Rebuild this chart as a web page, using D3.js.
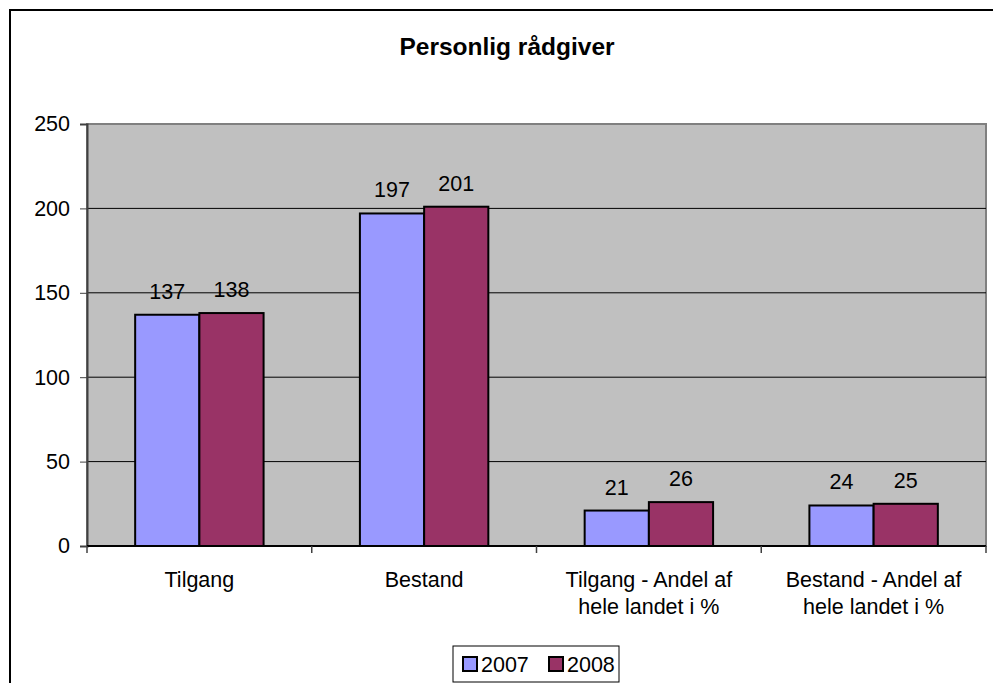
<!DOCTYPE html>
<html>
  <head>
    <meta charset="utf-8"/>
    <title>Personlig rådgiver</title>
    <script src="https://cdnjs.cloudflare.com/ajax/libs/d3/7.8.5/d3.min.js"></script>
    <style>
      body { margin: 0; background: #fff; }
      text { font-family: "Liberation Sans", Arial, sans-serif; fill: #000; }
    </style>
  </head>
  <body>
    <script>

      var categories = [
        ["Tilgang"],
        ["Bestand"],
        ["Tilgang - Andel af", "hele landet i %"],
        ["Bestand - Andel af", "hele landet i %"]
      ];
      var seriesNames = ["2007", "2008"];
      var values2007 = [137, 197, 21, 24];
      var values2008 = [138, 201, 26, 25];
      var yTicks = [0, 50, 100, 150, 200, 250];
      var colors = ["#9999ff", "#993366"];

      var width = 993, height = 683;
      var plot = { left: 87, right: 986, top: 124, bottom: 546 };
      var fs = 21.5;

      var svg = d3.select("body").append("svg")
        .attr("width", width)
        .attr("height", height);

      // outer chart frame (runs off the picture on right and bottom)
      svg.append("rect")
        .attr("x", 10).attr("y", 10)
        .attr("width", 1000).attr("height", 700)
        .attr("fill", "#fff").attr("stroke", "#000").attr("stroke-width", 2);

      svg.append("text")
        .attr("x", 507).attr("y", 55)
        .attr("text-anchor", "middle")
        .attr("font-size", 24.5).attr("font-weight", "bold")
        .text("Personlig rådgiver");

      var catKeys = categories.map(function (d, i){ return i; });
      var x0 = d3.scaleBand().domain(catKeys).range([plot.left, plot.right]);
      var barW = x0.bandwidth() / 3.5; // excel gap width 150%
      var x1 = d3.scaleBand().domain(seriesNames).range([0.75 * barW, 2.75 * barW]);
      var y = d3.scaleLinear().domain([0, 250]).range([plot.bottom, plot.top]);

      // plot background
      svg.append("rect")
        .attr("x", plot.left).attr("y", plot.top)
        .attr("width", plot.right - plot.left).attr("height", plot.bottom - plot.top)
        .attr("fill", "#c0c0c0").attr("stroke", "#808080").attr("stroke-width", 2);

      // gridlines
      svg.append("g").selectAll("line")
        .data(yTicks.filter(function (d){ return d > 0 && d < 250; }))
        .enter().append("line")
          .attr("x1", plot.left).attr("x2", plot.right)
          .attr("y1", function (d){ return y(d); })
          .attr("y2", function (d){ return y(d); })
          .attr("stroke", "#000").attr("stroke-width", 1);

      // y axis
      var yAxis = svg.append("g")
        .attr("transform", "translate(" + plot.left + ",0)")
        .call(d3.axisLeft(y).tickValues(yTicks).tickSize(7).tickPadding(10));
      yAxis.select(".domain").attr("stroke", "#404040").attr("stroke-width", 2);
      yAxis.selectAll(".tick line").attr("stroke", "#404040");
      yAxis.selectAll(".tick text")
        .attr("font-size", fs)
        .attr("font-family", "Liberation Sans, Arial, sans-serif");

      // bars
      var data = catKeys.map(function (i){
        return { cat: i, vals: [values2007[i], values2008[i]] };
      });
      var groups = svg.append("g").selectAll("g")
        .data(data)
        .enter().append("g")
          .attr("transform", function (d){ return "translate(" + x0(d.cat) + ",0)"; });

      groups.selectAll("rect")
        .data(function (d){ return d.vals.map(function (v, j){ return { s: seriesNames[j], v: v, j: j }; }); })
        .enter().append("rect")
          .attr("x", function (d){ return x1(d.s); })
          .attr("y", function (d){ return y(d.v); })
          .attr("width", x1.bandwidth())
          .attr("height", function (d){ return y(0) - y(d.v); })
          .attr("fill", function (d){ return colors[d.j]; })
          .attr("stroke", "#000").attr("stroke-width", 2);

      groups.selectAll("text.val")
        .data(function (d){ return d.vals.map(function (v, j){ return { s: seriesNames[j], v: v }; }); })
        .enter().append("text")
          .attr("class", "val")
          .attr("x", function (d){ return x1(d.s) + x1.bandwidth() / 2; })
          .attr("y", function (d){ return y(d.v) - 16; })
          .attr("text-anchor", "middle")
          .attr("font-size", fs)
          .text(function (d){ return d.v; });

      // x axis line + boundary ticks
      svg.append("line")
        .attr("x1", plot.left).attr("x2", plot.right)
        .attr("y1", plot.bottom).attr("y2", plot.bottom)
        .attr("stroke", "#000").attr("stroke-width", 2);
      var bounds = catKeys.map(function (i){ return x0(i); }).concat([plot.right]);
      svg.append("g").selectAll("line")
        .data(bounds)
        .enter().append("line")
          .attr("x1", function (d){ return d; }).attr("x2", function (d){ return d; })
          .attr("y1", plot.bottom).attr("y2", plot.bottom + 7)
          .attr("stroke", "#404040").attr("stroke-width", 1.5);

      // category labels
      var catText = svg.append("g").selectAll("text")
        .data(categories)
        .enter().append("text")
          .attr("text-anchor", "middle")
          .attr("font-size", fs)
          .attr("x", function (d, i){ return x0(i) + x0.bandwidth() / 2; })
          .attr("y", 587);
      catText.selectAll("tspan")
        .data(function (d){ return d; })
        .enter().append("tspan")
          .attr("x", function (){ return d3.select(this.parentNode).attr("x"); })
          .attr("dy", function (d, k){ return k === 0 ? 0 : 27; })
          .text(function (d){ return d; });

      // legend
      var legend = svg.append("g");
      legend.append("rect")
        .attr("x", 453).attr("y", 646).attr("width", 166).attr("height", 36)
        .attr("fill", "#fff").attr("stroke", "#000").attr("stroke-width", 1);
      var items = legend.selectAll("g")
        .data(seriesNames)
        .enter().append("g")
          .attr("transform", function (d, i){ return "translate(" + (463 + i * 86) + ",657)"; });
      items.append("rect")
        .attr("width", 14).attr("height", 14)
        .attr("fill", function (d, i){ return colors[i]; })
        .attr("stroke", "#000").attr("stroke-width", 2);
      items.append("text")
        .attr("x", 18).attr("y", 15)
        .attr("font-size", fs)
        .text(function (d){ return d; });

    </script>
  </body>
</html>
